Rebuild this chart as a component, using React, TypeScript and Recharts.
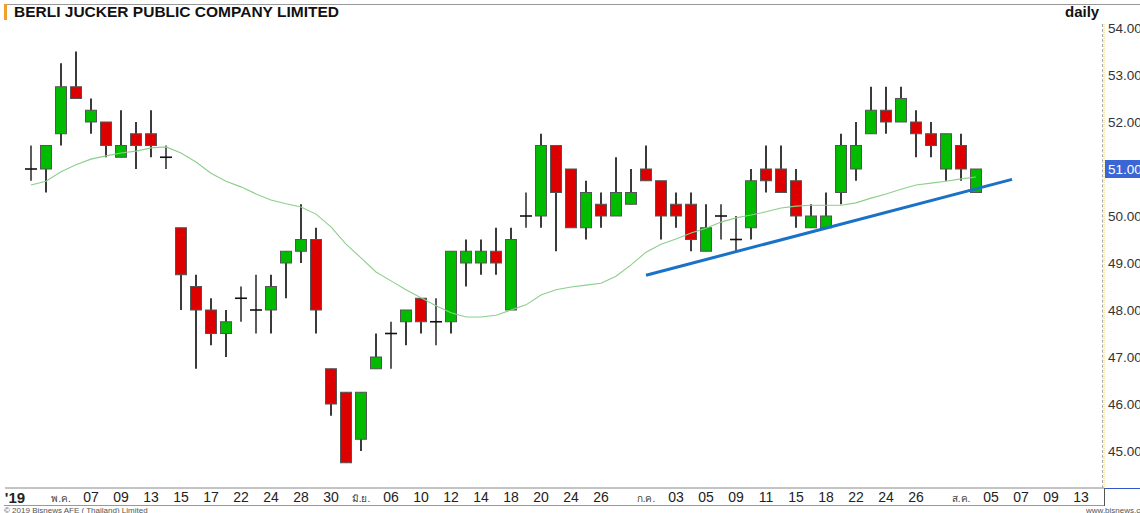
import { ComposedChart, Bar, Line, XAxis, YAxis } from "recharts";

// trading days shown, plus the empty future slots at the right
const dates = [
  "2019-04-29", "2019-04-30", "2019-05-02", "2019-05-03", "2019-05-07", "2019-05-08", "2019-05-09", "2019-05-10",
  "2019-05-13", "2019-05-14", "2019-05-15", "2019-05-16", "2019-05-17", "2019-05-21", "2019-05-22", "2019-05-23",
  "2019-05-24", "2019-05-27", "2019-05-28", "2019-05-29", "2019-05-30", "2019-05-31", "2019-06-04", "2019-06-05",
  "2019-06-06", "2019-06-07", "2019-06-10", "2019-06-11", "2019-06-12", "2019-06-13", "2019-06-14", "2019-06-17",
  "2019-06-18", "2019-06-19", "2019-06-20", "2019-06-21", "2019-06-24", "2019-06-25", "2019-06-26", "2019-06-27",
  "2019-06-28", "2019-07-01", "2019-07-02", "2019-07-03", "2019-07-04", "2019-07-05", "2019-07-08", "2019-07-09",
  "2019-07-10", "2019-07-11", "2019-07-12", "2019-07-15", "2019-07-17", "2019-07-18", "2019-07-19", "2019-07-22",
  "2019-07-23", "2019-07-24", "2019-07-25", "2019-07-26", "2019-07-30", "2019-07-31", "2019-08-01", "2019-08-02",
  "2019-08-05", "2019-08-06", "2019-08-07", "2019-08-08", "2019-08-09", "2019-08-12", "2019-08-13", "2019-08-14",
];

const open = [
  51.0, 51.0, 51.75, 52.75, 52.0, 52.0, 51.25, 51.75, 51.75, 51.25,
  49.75, 48.5, 48.0, 47.5, 48.25, 48.0, 48.0, 49.0, 49.25, 49.5,
  46.75, 46.25, 45.25, 46.75, 47.5, 47.75, 48.25, 47.75, 47.75, 49.0,
  49.0, 49.25, 48.0, 50.0, 50.0, 51.5, 51.0, 49.75, 50.25, 50.0,
  50.25, 51.0, 50.75, 50.25, 50.25, 49.25, 50.0, 49.5, 49.75, 51.0,
  51.0, 50.75, 49.75, 49.75, 50.5, 51.0, 51.75, 52.25, 52.0, 52.0,
  51.75, 51.0, 51.5, 50.5,
];
const high = [
  51.5, 51.5, 53.25, 53.5, 52.5, 52.0, 52.25, 52.0, 52.25, 51.5,
  49.75, 48.75, 48.25, 48.0, 48.5, 48.75, 48.75, 49.25, 50.25, 49.75,
  46.75, 46.25, 46.25, 47.5, 47.75, 48.0, 48.25, 48.25, 49.25, 49.5,
  49.5, 49.75, 49.75, 50.5, 51.75, 51.5, 51.0, 50.75, 50.5, 51.25,
  51.0, 51.5, 50.75, 50.5, 50.5, 50.25, 50.25, 50.0, 51.0, 51.5,
  51.5, 51.0, 50.25, 50.5, 51.75, 52.0, 52.75, 52.75, 52.75, 52.25,
  52.0, 51.75, 51.75, 51.0,
];
const low = [
  50.75, 50.5, 51.5, 52.5, 51.75, 51.25, 51.25, 51.0, 51.25, 51.0,
  48.0, 46.75, 47.25, 47.0, 47.75, 47.5, 47.5, 48.25, 49.0, 47.5,
  45.75, 44.75, 45.0, 46.75, 46.75, 47.25, 47.5, 47.25, 47.5, 48.5,
  48.75, 48.75, 48.0, 49.75, 49.75, 49.25, 49.75, 49.5, 49.75, 50.0,
  50.25, 50.75, 49.5, 49.75, 49.25, 49.25, 49.5, 49.25, 49.5, 50.5,
  50.5, 49.75, 49.75, 49.75, 50.25, 50.75, 51.75, 51.75, 52.0, 51.25,
  51.25, 50.75, 50.75, 50.5,
];
const close = [
  51.0, 51.5, 52.75, 52.5, 52.25, 51.5, 51.5, 51.5, 51.5, 51.25,
  48.75, 48.0, 47.5, 47.75, 48.25, 48.0, 48.5, 49.25, 49.5, 48.0,
  46.0, 44.75, 46.25, 47.0, 47.5, 48.0, 47.75, 47.75, 49.25, 49.25,
  49.25, 49.0, 49.5, 50.0, 51.5, 50.5, 49.75, 50.5, 50.0, 50.5,
  50.5, 50.75, 50.0, 50.0, 49.5, 49.75, 50.0, 49.5, 50.75, 50.75,
  50.5, 50.0, 50.0, 50.0, 51.5, 51.5, 52.25, 52.0, 52.5, 51.75,
  51.5, 51.75, 51.0, 51.0,
];

// moving average
const movingAvg = [
  50.66, 50.74, 50.94, 51.09, 51.21, 51.28, 51.34, 51.38, 51.45, 51.47,
  51.34, 51.15, 50.91, 50.74, 50.62, 50.47, 50.34, 50.26, 50.19, 50.04,
  49.77, 49.40, 49.11, 48.81, 48.62, 48.43, 48.26, 48.09, 47.94, 47.85,
  47.85, 47.89, 48.0, 48.11, 48.32, 48.43, 48.49, 48.53, 48.57, 48.72,
  48.96, 49.23, 49.40, 49.51, 49.64, 49.74, 49.87, 49.96, 50.02, 50.09,
  50.17, 50.21, 50.23, 50.23, 50.23, 50.28, 50.38, 50.47, 50.57, 50.66,
  50.70, 50.74, 50.79, 50.83,
];

// support trendline (bar index, price)
const trendIdx = [41, 65.4];
const trendVal = [48.74, 50.78];

const tickIdx = [
  -1.13, 2, 4, 6, 8, 10, 12, 14, 16, 18, 20, 22, 24, 26, 28, 30, 32, 34, 36, 38,
  41, 43, 45, 47, 49, 51, 53, 55, 57, 59, 62, 64, 66, 68, 70,
];
const tickText = [
  "'19", "พ.ค.", "07", "09", "13", "15", "17", "22", "24", "28", "30", "มิ.ย.", "06", "10", "12", "14", "18", "20", "24", "26",
  "ก.ค.", "03", "05", "09", "11", "15", "18", "22", "24", "26", "ส.ค.", "05", "07", "09", "13",
];

const priceTicks = [45, 46, 47, 48, 49, 50, 51, 52, 53, 54];
const minorTicks = [44.5, 45, 45.5, 46, 46.5, 47, 47.5, 48, 48.5, 49, 49.5, 50, 50.5, 51, 51.5, 52, 52.5, 53, 53.5, 54];

const lastClose = close[close.length - 1];
const FONT = 'Arial, "Liberation Sans", sans-serif';

const rows = dates.map((d, i) => ({
  i,
  date: d,
  o: open[i],
  h: high[i],
  l: low[i],
  c: close[i],
  ma: movingAvg[i],
}));
const trendRows = trendIdx.map((i, k) => ({ i, t: trendVal[k] }));

function Candle(props: any) {
  const { x, y, width, height, payload } = props;
  if (!payload || payload.h == null) return null;
  const { o, h, l, c } = payload;
  const cx = Math.round(x + width / 2);
  const k = h === l ? 0 : height / (h - l);
  const py = (v: number) => y + (h - v) * k;
  const top = py(Math.max(o, c));
  const bot = py(Math.min(o, c));
  if (o === c) {
    return (
      <g>
        <line x1={cx} x2={cx} y1={y} y2={y + height} stroke="#333" strokeWidth={1.6} />
        <line x1={cx - 6} x2={cx + 6} y1={top} y2={top} stroke="#111" strokeWidth={1.6} />
      </g>
    );
  }
  return (
    <g>
      <line x1={cx} x2={cx} y1={y} y2={y + height} stroke="#3a3a3a" strokeWidth={2} />
      <rect x={cx - 5.5} y={top} width={11} height={bot - top} fill={c > o ? "#00bb00" : "#dd0000"} stroke="#555" strokeWidth={1} />
    </g>
  );
}

function XTick(p: any) {
  const k = tickIdx.indexOf(p.payload.value);
  const txt = tickText[k] ?? "";
  if (txt === "'19") {
    return <text x={p.x + 1} y={488 + 15} textAnchor="middle" fontSize={15} fontWeight="bold" fill="#222" fontFamily={FONT}>{txt}</text>;
  }
  const thai = /[\u0E00-\u0E7F]/.test(txt);
  return (
    <text x={p.x} y={488 + 14} textAnchor="middle" fontSize={thai ? 10 : 14} fill={thai ? "#444" : "#222"} fontFamily={FONT}>
      {txt}
    </text>
  );
}

function PriceTick(p: any) {
  const v = p.payload.value;
  const txt = v.toFixed(2);
  if (v === lastClose) {
    return (
      <g>
        <rect x={p.x - 3} y={p.y - 9} width={40} height={18} fill="#3b67d6" />
        <text x={p.x} y={p.y + 5} fontSize={13.5} fill="#fff" fontFamily={FONT}>{txt}</text>
      </g>
    );
  }
  return <text x={p.x} y={p.y + 5} fontSize={13.5} fill="#333" fontFamily={FONT}>{txt}</text>;
}

const LeftTick = (p: any) => <line x1={p.x} x2={p.x + 4} y1={p.y} y2={p.y} stroke="#777" />;

export default function App() {
  return (
    <div style={{ position: "absolute", left: 0, top: 0, width: 1140, height: 513, background: "#fff", overflow: "hidden", fontFamily: FONT }}>
      <div style={{ position: "absolute", left: 0, top: 0 }}>
        <ComposedChart width={1140} height={513} data={rows} margin={{ top: 24, right: 0, bottom: 5, left: 5 }}>
          <XAxis
            dataKey="i"
            type="number"
            domain={[-1.73, 71.53]}
            allowDataOverflow
            ticks={tickIdx}
            interval={0}
            height={20}
            tickSize={0}
            tickMargin={0}
            tickLine={false}
            tick={<XTick />}
            axisLine={{ stroke: "#888" }}
          />
          <YAxis
            yAxisId="r"
            orientation="right"
            domain={[44.213, 54.085]}
            allowDataOverflow
            ticks={priceTicks}
            interval={0}
            width={36}
            tickSize={0}
            tickMargin={4}
            tickLine={false}
            tick={<PriceTick />}
            axisLine={{ stroke: "#e3c96e", strokeDasharray: "1 1" }}
          />
          <YAxis
            yAxisId="l"
            orientation="left"
            domain={[44.213, 54.085]}
            allowDataOverflow
            ticks={minorTicks}
            interval={0}
            width={0}
            tickSize={0}
            tickMargin={0}
            tickLine={false}
            tick={<LeftTick />}
            axisLine={{ stroke: "#888" }}
          />
          <Bar yAxisId="r" dataKey={(d: any) => (d.h == null ? null : [d.l, d.h])} barSize={11} shape={<Candle />} isAnimationActive={false} />
          <Line yAxisId="r" dataKey="ma" stroke="#8ccf8c" strokeWidth={1.1} dot={false} activeDot={false} isAnimationActive={false} />
          <Line yAxisId="r" data={trendRows} dataKey="t" stroke="#1a72c6" strokeWidth={3} dot={false} activeDot={false} isAnimationActive={false} />
        </ComposedChart>
      </div>

      <div style={{ position: "absolute", left: 4, top: 4, width: 1136, borderTop: "1px solid #999" }} />
      <div style={{ position: "absolute", left: 4, top: 4, width: 3, height: 16, background: "#f0a030" }} />
      <div style={{ position: "absolute", left: 14, top: 3, fontSize: 15.5, fontWeight: "bold", color: "#111", lineHeight: "18px" }}>
        BERLI JUCKER PUBLIC COMPANY LIMITED
      </div>
      <div style={{ position: "absolute", left: 1065, top: 3, fontSize: 15, fontWeight: "bold", color: "#111", lineHeight: "18px" }}>daily</div>

      <div style={{ position: "absolute", left: 1102, top: 24, height: 464, borderLeft: "1px dashed #aaa" }} />
      <div style={{ position: "absolute", left: 4, top: 505, width: 1100, borderTop: "1px solid #999" }} />
      <div style={{ position: "absolute", left: 1104, top: 488, height: 18, borderLeft: "1px solid #555" }} />
      <div style={{ position: "absolute", left: 1105, top: 488, width: 35, borderTop: "1px solid #3355cc" }} />
      <div style={{ position: "absolute", left: 4, top: 506, fontSize: 8, color: "#555", lineHeight: "9px" }}>© 2019 Bisnews AFE ( Thailand) Limited</div>
      <div style={{ position: "absolute", left: 1086, top: 506, fontSize: 8, color: "#555", lineHeight: "9px" }}>www.bisnews.co.th</div>
    </div>
  );
}
